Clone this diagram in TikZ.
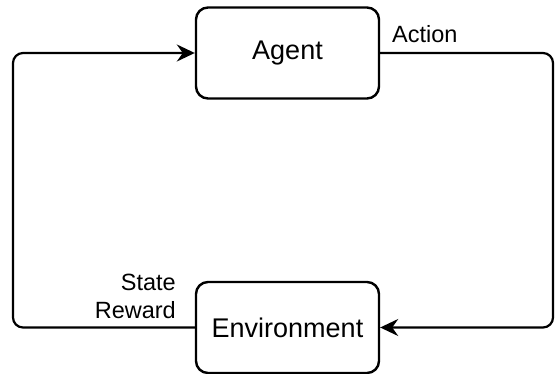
\documentclass[tikz,border=0pt]{standalone}
\usepackage{fontspec}
\setmainfont{Liberation Sans}
\usetikzlibrary{arrows.meta}
\begin{document}
\begin{tikzpicture}[x=1pt,y=-1pt,
  box/.style={draw=black,line width=2.4pt,rounded corners=12pt,minimum width=183pt,minimum height=91pt,inner sep=0pt,font=\fontsize{27}{32}\selectfont},
  conn/.style={draw=black,line width=2.2pt,rounded corners=10pt},
  tip/.style={-{Stealth[length=18pt,width=17pt,inset=6pt]}},
  lbl/.style={inner sep=0pt,font=\fontsize{23.5}{28}\selectfont}]
\useasboundingbox (0,0) rectangle (555,374);
\node[box] (agent) at (287.5,53) {Agent};
\node[box] (env) at (287.5,327.5) {Environment};
\coordinate (lb) at (13,327.5);
\coordinate (lt) at (13,53);
\coordinate (rt) at (553,53);
\coordinate (rb) at (553,327.5);
\draw[conn,tip] (env.west) -- (lb) -- (lt) -- (agent.west);
\draw[conn,tip] (agent.east) -- (rt) -- (rb) -- (env.east);
\node[lbl,anchor=base west] (action) at (392,43) {Action};
\node[lbl,anchor=east,align=right] (sr) at (176,296) {State\\Reward};
\end{tikzpicture}
\end{document}
